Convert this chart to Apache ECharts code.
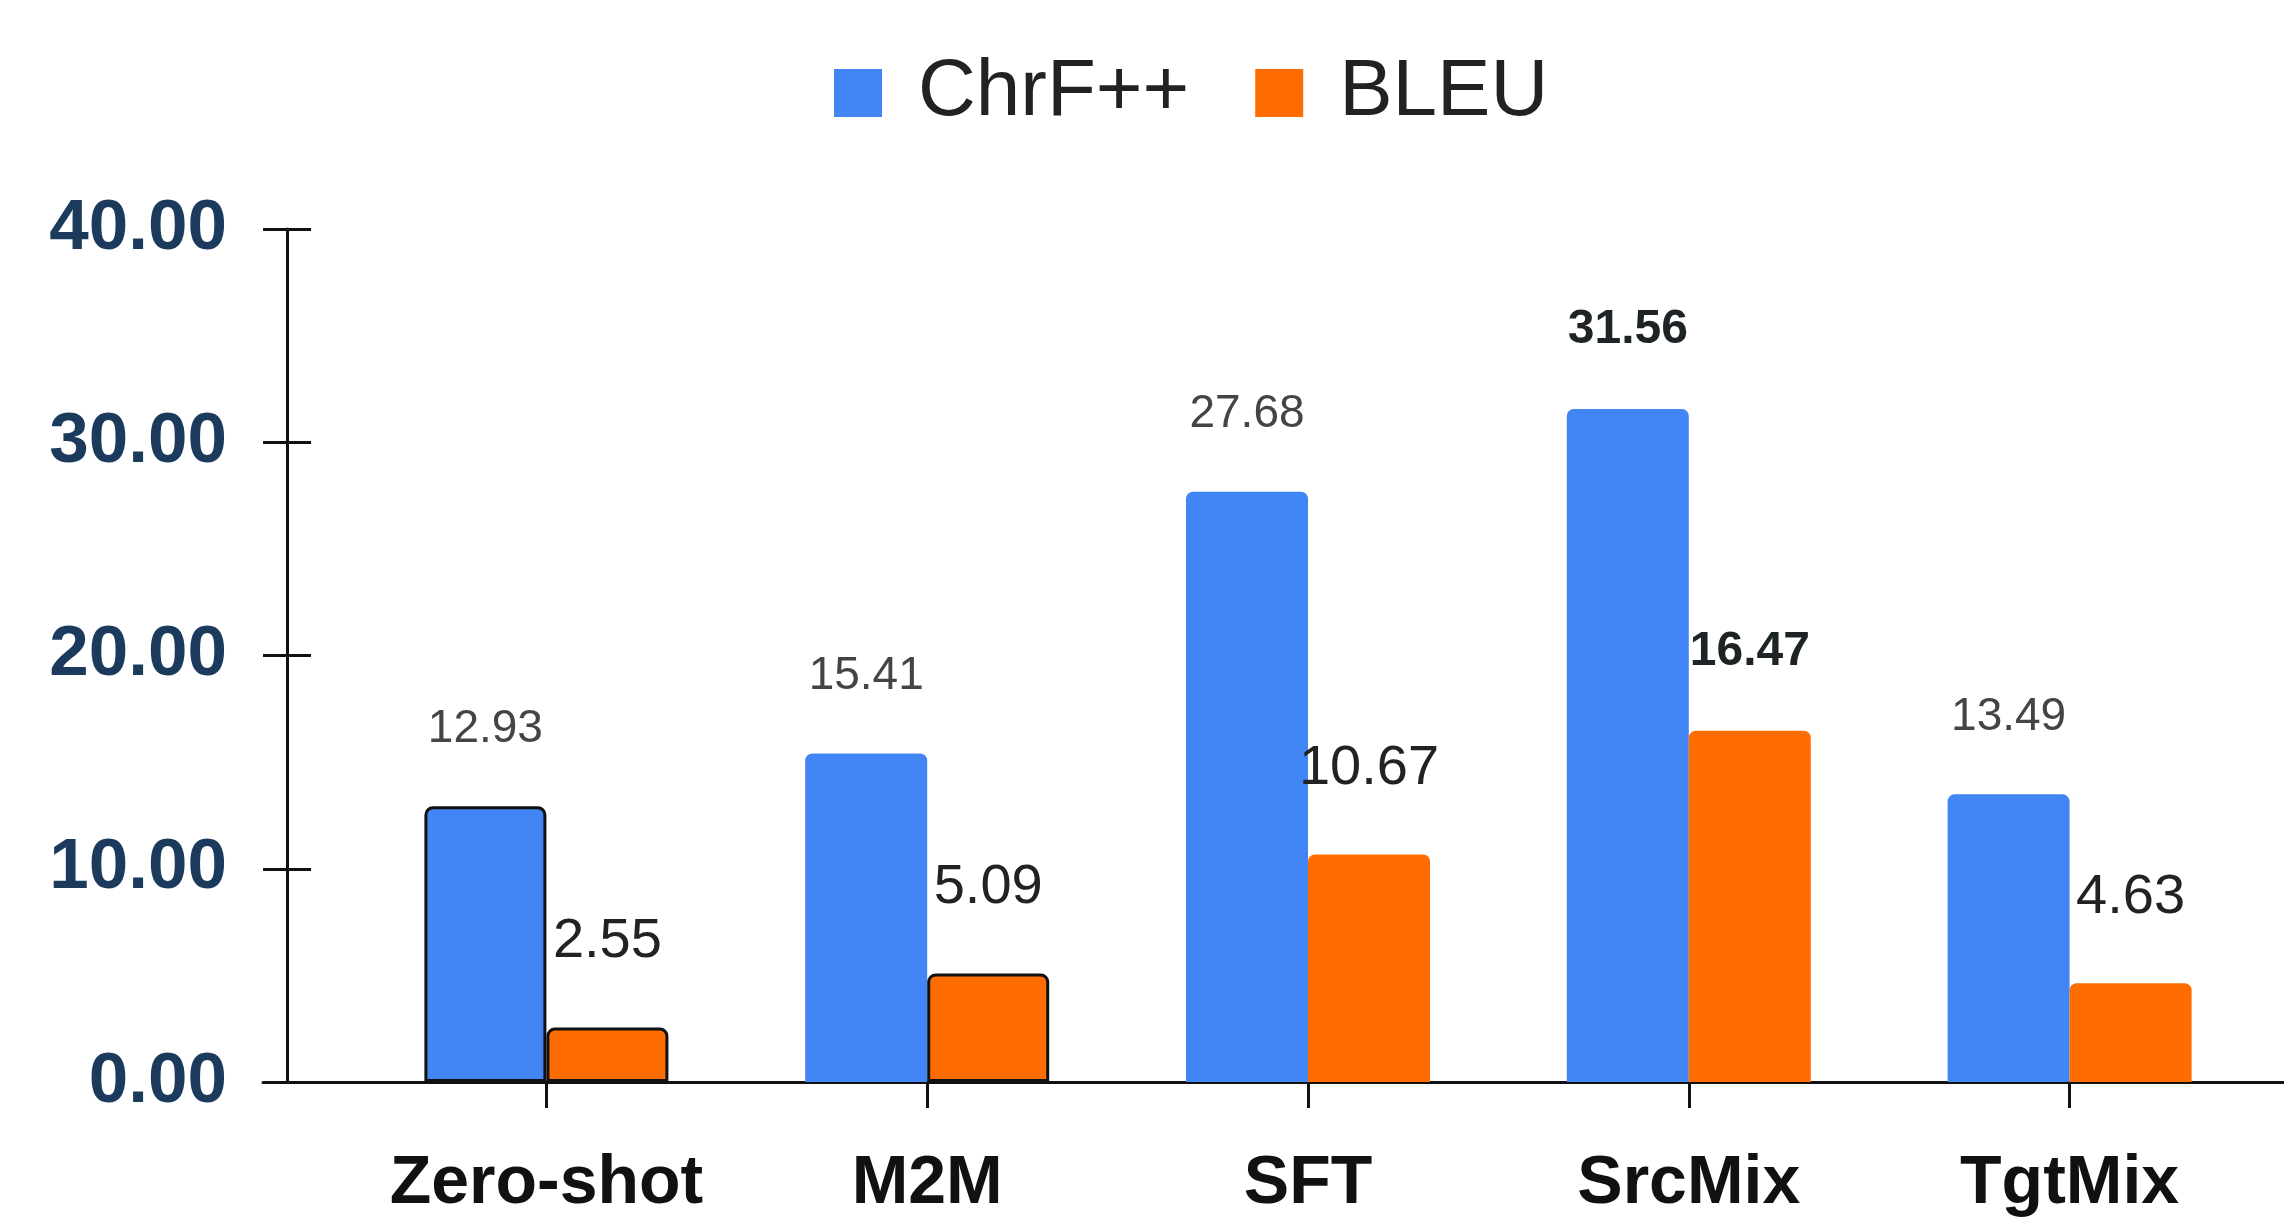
<!DOCTYPE html>
<html>
<head>
<meta charset="utf-8">
<title>ChrF++ / BLEU</title>
<script src="https://cdn.jsdelivr.net/npm/echarts@6/dist/echarts.min.js"></script>
<style>
  html, body { margin: 0; padding: 0; background: #fff; }
  #chart { width: 2284px; height: 1219px; }
</style>
</head>
<body>
<div id="chart"></div>
<script>
// data
const categories = ['Zero-shot', 'M2M', 'SFT', 'SrcMix', 'TgtMix']
const chrfValues = [12.93, 15.41, 27.68, 31.56, 13.49]
const bleuValues = [2.55, 5.09, 10.67, 16.47, 4.63]
const yTicks = [0, 10, 20, 30, 40]

const font = 'Liberation Sans, Arial, sans-serif'

// bars that carry a dark outline in the original
const outlinedChrf = [0]
const outlinedBleu = [0, 1]

function buildData(values, outlined) {
  const best = values.indexOf(Math.max(...values))
  return values.map((v, i) => {
    const item = { value: v }
    if (outlined.includes(i)) {
      item.itemStyle = { borderColor: '#111', borderWidth: 3 }
    }
    if (i === best) {
      item.label = { fontWeight: 'bold', fontSize: 48, color: '#1e2426', distance: 55 }
    }
    return item
  })
}

let myChart = echarts.init(document.getElementById('chart'))
myChart.setOption({
  animation: false,
  legend: {
    data: ['ChrF++', 'BLEU'],
    left: 829,
    top: 48,
    icon: 'rect',
    itemWidth: 48,
    itemHeight: 48,
    itemGap: 66,
    textStyle: { fontFamily: font, fontSize: 80, color: '#222', padding: [0, 0, 0, 31] }
  },
  grid: [
    { left: 356, right: 24, top: 229, bottom: 137 },
    // only used to draw the long baseline that starts left of the y axis
    { left: 263, right: 0, top: 229, bottom: 137 }
  ],
  xAxis: [{
    type: 'category',
    data: categories,
    axisLine: { show: true, lineStyle: { color: '#111', width: 3 } },
    axisTick: { show: true, alignWithLabel: true, length: 26, lineStyle: { color: '#111', width: 3 } },
    axisLabel: { interval: 0, fontFamily: font, fontSize: 68, fontWeight: 'bold', color: '#111', margin: 68 }
  }, {
    type: 'value',
    gridIndex: 1,
    min: 0,
    max: 1,
    axisLine: { show: true, onZero: false, lineStyle: { color: '#111', width: 3 } },
    axisTick: { show: false },
    axisLabel: { show: false },
    splitLine: { show: false }
  }],
  yAxis: [{
    type: 'value',
    min: yTicks[0],
    max: yTicks[yTicks.length - 1],
    interval: 10,
    offset: 69,
    axisLine: { show: true, lineStyle: { color: '#111', width: 3 } },
    axisTick: { show: true, length: 24, lineStyle: { color: '#111', width: 3 } },
    axisLabel: {
      fontFamily: font, fontSize: 71, fontWeight: 'bold', color: '#1b3a5c', margin: 60,
      formatter: v => v.toFixed(2)
    },
    splitLine: { show: false }
  }, {
    // inner half of the crossing ticks
    type: 'value',
    min: yTicks[0],
    max: yTicks[yTicks.length - 1],
    interval: 10,
    offset: 69,
    position: 'left',
    axisLine: { show: false },
    axisTick: { show: true, inside: true, length: 24, lineStyle: { color: '#111', width: 3 } },
    axisLabel: { show: false },
    splitLine: { show: false }
  }, {
    type: 'value',
    gridIndex: 1,
    min: 0,
    max: 1,
    axisLine: { show: false },
    axisTick: { show: false },
    axisLabel: { show: false },
    splitLine: { show: false }
  }],
  series: [{
    name: 'ChrF++',
    type: 'bar',
    data: buildData(chrfValues, outlinedChrf),
    barWidth: 122,
    barGap: '0%',
    itemStyle: { color: '#4285f4', borderRadius: [7, 7, 0, 0] },
    label: {
      show: true, position: 'top', distance: 54,
      fontFamily: font, fontSize: 46, color: '#444',
      formatter: p => p.value.toFixed(2)
    }
  }, {
    name: 'BLEU',
    type: 'bar',
    data: buildData(bleuValues, outlinedBleu),
    barWidth: 122,
    barGap: '0%',
    itemStyle: { color: '#ff6d01', borderRadius: [7, 7, 0, 0] },
    label: {
      show: true, position: 'top', distance: 58,
      fontFamily: font, fontSize: 56, color: '#222',
      formatter: p => p.value.toFixed(2)
    }
  }]
})
</script>
</body>
</html>
